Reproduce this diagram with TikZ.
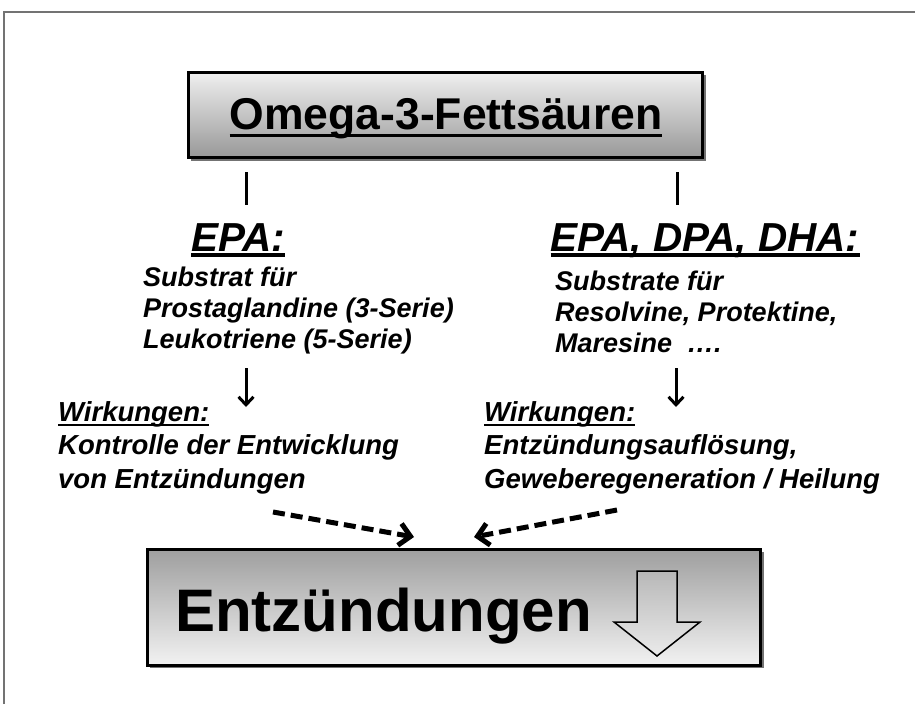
\documentclass[tikz,border=0pt]{standalone}
\usepackage{fontspec}
\setmainfont{Liberation Sans}
\usetikzlibrary{arrows.meta}
\newcommand\myul[3]{\setbox0=\hbox{#3}\rlap{\rule[-#2]{\wd0}{#1}}\box0}
\begin{document}
\begin{tikzpicture}[x=1pt,y=-1pt,
  boxstyle/.style={draw=black, line width=3pt, inner sep=0pt},
  shadowstyle/.style={fill=black!55},
  txt/.style={inner sep=0pt, font=\bfseries\itshape\fontsize{27}{31}\selectfont, align=left, anchor=north west},
  wtxt/.style={inner sep=0pt, font=\bfseries\itshape\fontsize{27.5}{33.5}\selectfont, align=left, anchor=north west},
  head/.style={inner sep=0pt, font=\bfseries\itshape\fontsize{40.5}{46}\selectfont, anchor=base},
  conn/.style={line width=3pt},
  downarr/.style={line width=3pt, -{Straight Barb[length=8pt,width=15pt]}},
  dasharr/.style={line width=5pt, dash pattern=on 12pt off 6pt, -{Straight Barb[length=11pt,width=22pt,line width=0pt 1]}}]
\useasboundingbox (0,0) rectangle (915,704);
% frame
\draw[black!55, line width=1.5pt] (4,704) -- (4,12) -- (915,12);
% top box
\fill[shadowstyle] (191,75) rectangle (706,161);
\node[boxstyle, top color=black!6, bottom color=black!40, minimum width=514pt, minimum height=85pt] (omega) at (445,114.5) {};
\node[inner sep=0pt, anchor=base, font=\bfseries\fontsize{44.5}{50}\selectfont] (omegatxt) at (446,129) {\myul{3.5pt}{8pt}{Omega-3-Fettsäuren}};
% headings
\node[head] (epa) at (238,251) {\myul{4pt}{5.5pt}{EPA:}};
\node[head] (epadha) at (705,251) {\myul{4pt}{5.5pt}{EPA, DPA, DHA:}};
\coordinate (l1) at (246,172); \coordinate (l2) at (246,205);
\coordinate (r1) at (677,172); \coordinate (r2) at (677,205);
\draw[conn] (l1) -- (l2);
\draw[conn] (r1) -- (r2);
% substrate
\node[txt] (subl) at (143,267) {Substrat für\\Prostaglandine (3-Serie)\\Leukotriene (5-Serie)};
\node[txt] (subr) at (555,271) {Substrate für\\Resolvine, Protektine,\\Maresine\ \ ….};
\coordinate (la1) at (246,368); \coordinate (la2) at (246,407);
\coordinate (ra1) at (676,368); \coordinate (ra2) at (676,407);
\draw[downarr] (la1) -- (la2);
\draw[downarr] (ra1) -- (ra2);
% Wirkungen
\node[wtxt] (wirkl) at (58,401) {\myul{2pt}{5pt}{Wirkungen:}\\Kontrolle der Entwicklung\\von Entzündungen};
\node[wtxt] (wirkr) at (484,401) {\myul{2pt}{5pt}{Wirkungen:}\\Entzündungsauflösung,\\Geweberegeneration / Heilung};
% dashed arrows
\coordinate (dl1) at (273,512); \coordinate (dl2) at (414,537);
\coordinate (dr1) at (617,510); \coordinate (dr2) at (474,537);
\draw[dasharr] (dl1) -- (dl2);
\draw[dasharr] (dr1) -- (dr2);
% bottom box
\fill[shadowstyle] (150,552) rectangle (764,668);
\node[boxstyle, top color=black!38, bottom color=black!5, minimum width=613pt, minimum height=116pt] (entz) at (453.5,607) {};
\node[inner sep=0pt, anchor=base west, font=\bfseries\fontsize{60}{66}\selectfont] (entztxt) at (175,631) {Entzündungen};
\draw[line width=1.5pt, top color=black!28, bottom color=black!8]
  (637,571) -- (677,571) -- (677,622) -- (700,622) -- (657,656) -- (614,622) -- (637,622) -- cycle;
\end{tikzpicture}
\end{document}
